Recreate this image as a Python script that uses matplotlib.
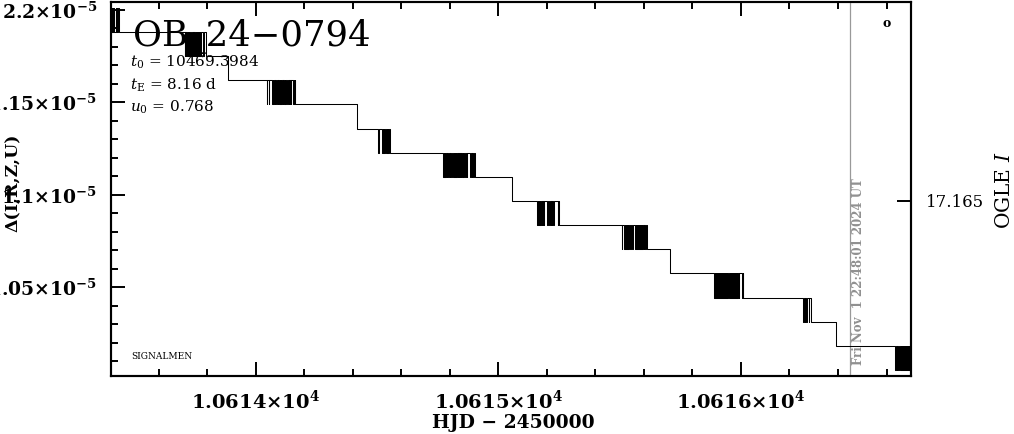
import matplotlib
matplotlib.use('Agg')
import matplotlib.pyplot as plt
from matplotlib.ticker import MultipleLocator

plt.rcParams['font.family'] = 'DejaVu Serif'
plt.rcParams['mathtext.fontset'] = 'dejavuserif'

# quantised Delta(I,R,Z,U) levels, in units of 1e-5, from top to bottom
LEVELS = [1.2010, 1.1879, 1.1749, 1.1618, 1.1488, 1.1357, 1.1227, 1.1096,
          1.0966, 1.0836, 1.0705, 1.0575, 1.0444, 1.0314, 1.0183, 1.0053]

T_START = 10613.38
T_END = 10616.72

# times (HJD-2450000) where the curve flips between level k and level k+1
CHANGES = [
    [10613.405, 10613.407, 10613.409, 10613.411, 10613.413, 10613.415, 10613.417,
     10613.422, 10613.424, 10613.426, 10613.428, 10613.432, 10613.434, 10613.436,
     10613.438],
    [10613.708, 10613.710, 10613.712, 10613.714, 10613.716, 10613.719, 10613.721,
     10613.723, 10613.725, 10613.727, 10613.733, 10613.735, 10613.739, 10613.741,
     10613.745, 10613.747, 10613.749, 10613.752, 10613.754, 10613.756, 10613.758,
     10613.760, 10613.762, 10613.764, 10613.766, 10613.768, 10613.770, 10613.772,
     10613.774, 10613.776, 10613.782, 10613.785, 10613.793],
    [10613.886],
    [10614.046, 10614.048, 10614.053, 10614.055, 10614.067, 10614.069, 10614.071,
     10614.073, 10614.075, 10614.077, 10614.079, 10614.081, 10614.083, 10614.086,
     10614.090, 10614.092, 10614.096, 10614.098, 10614.100, 10614.102, 10614.104,
     10614.106, 10614.108, 10614.110, 10614.112, 10614.114, 10614.116, 10614.119,
     10614.121, 10614.123, 10614.129, 10614.131, 10614.135, 10614.137, 10614.139,
     10614.141, 10614.145, 10614.147, 10614.154, 10614.156, 10614.158, 10614.160,
     10614.162],
    [10614.418],
    [10614.504, 10614.506, 10614.521, 10614.523, 10614.525, 10614.527, 10614.529,
     10614.531, 10614.537, 10614.539, 10614.541, 10614.543, 10614.545, 10614.547,
     10614.552],
    [10614.772, 10614.774, 10614.776, 10614.778, 10614.780, 10614.782, 10614.787,
     10614.789, 10614.793, 10614.795, 10614.799, 10614.801, 10614.805, 10614.807,
     10614.813, 10614.816, 10614.818, 10614.820, 10614.822, 10614.824, 10614.826,
     10614.828, 10614.832, 10614.834, 10614.836, 10614.838, 10614.840, 10614.842,
     10614.844, 10614.846, 10614.851, 10614.853, 10614.855, 10614.857, 10614.863,
     10614.865, 10614.869, 10614.871, 10614.884, 10614.886, 10614.890, 10614.892,
     10614.896, 10614.898, 10614.902],
    [10615.057],
    [10615.160, 10615.162, 10615.164, 10615.166, 10615.168, 10615.170, 10615.172,
     10615.174, 10615.178, 10615.180, 10615.183, 10615.185, 10615.187, 10615.189,
     10615.201, 10615.203, 10615.209, 10615.211, 10615.216, 10615.218, 10615.220,
     10615.222, 10615.226, 10615.228, 10615.244, 10615.246, 10615.251],
    [10615.508, 10615.510, 10615.519, 10615.521, 10615.523, 10615.525, 10615.527,
     10615.529, 10615.531, 10615.533, 10615.535, 10615.537, 10615.543, 10615.545,
     10615.552, 10615.554, 10615.564, 10615.566, 10615.568, 10615.570, 10615.572,
     10615.574, 10615.576, 10615.578, 10615.580, 10615.583, 10615.585, 10615.587,
     10615.589, 10615.591, 10615.593, 10615.595, 10615.599, 10615.601, 10615.605,
     10615.607, 10615.611],
    [10615.708],
    [10615.890, 10615.892, 10615.894, 10615.896, 10615.898, 10615.900, 10615.902,
     10615.904, 10615.906, 10615.908, 10615.910, 10615.912, 10615.915, 10615.917,
     10615.919, 10615.921, 10615.923, 10615.925, 10615.927, 10615.929, 10615.931,
     10615.933, 10615.935, 10615.937, 10615.939, 10615.941, 10615.943, 10615.945,
     10615.952, 10615.954, 10615.956, 10615.958, 10615.960, 10615.962, 10615.964,
     10615.966, 10615.968, 10615.970, 10615.972, 10615.974, 10615.976, 10615.978,
     10615.981, 10615.983, 10615.985, 10615.987, 10615.991, 10615.993, 10616.005,
     10616.007, 10616.009],
    [10616.257, 10616.259, 10616.263, 10616.265, 10616.269, 10616.271, 10616.279,
     10616.282, 10616.288],
    [10616.393],
    [10616.636, 10616.638, 10616.642, 10616.644, 10616.649, 10616.651, 10616.657,
     10616.659, 10616.661, 10616.663, 10616.665, 10616.667, 10616.669, 10616.671,
     10616.673, 10616.676, 10616.678, 10616.680, 10616.682, 10616.684, 10616.686,
     10616.688, 10616.690, 10616.692, 10616.694, 10616.696, 10616.698, 10616.700,
     10616.702],
]

XTICKS = [10614, 10615, 10616]
XTICK_LABELS = [r'$\mathbf{1.0614{\times}10^{4}}$', r'$\mathbf{1.0615{\times}10^{4}}$',
                r'$\mathbf{1.0616{\times}10^{4}}$']
YTICKS = [1.2e-5, 1.15e-5, 1.1e-5, 1.05e-5]
YTICK_LABELS = [r'$\mathbf{2.2{\times}10^{-5}}$', r'$\mathbf{1.15{\times}10^{-5}}$',
                r'$\mathbf{1.1{\times}10^{-5}}$', r'$\mathbf{1.05{\times}10^{-5}}$']
NOW_HJD = 10616.450
OGLE_TICK = 17.165

# build the step curve
t = [T_START]
y = [LEVELS[0] * 1e-5]
for k, times in enumerate(CHANGES):
    hi = LEVELS[k] * 1e-5
    lo = LEVELS[k + 1] * 1e-5
    for j, tt in enumerate(times):
        t.append(tt)
        y.append(lo if j % 2 == 0 else hi)
t.append(T_END)
y.append(LEVELS[-1] * 1e-5)

fig = plt.figure(figsize=(10.14, 4.34), dpi=100)
ax = fig.add_axes([111 / 1014, 58 / 434, 800 / 1014, 374 / 434])

ax.plot(t, y, drawstyle='steps-post', color='black', lw=0.75, zorder=5)
ax.axvline(NOW_HJD, color='#999999', lw=0.9, zorder=4)

ax.set_xlim(10613.403, 10616.701)
ax.set_ylim(1.0020e-5, 1.2042e-5)

ax.set_xticks(XTICKS)
ax.set_xticklabels(XTICK_LABELS, fontsize=14)
ax.set_yticks(YTICKS)
ax.set_yticklabels(YTICK_LABELS, fontsize=13.5)
ax.xaxis.set_minor_locator(MultipleLocator(0.2))
ax.yaxis.set_minor_locator(MultipleLocator(0.01e-5))
ax.tick_params(which='both', direction='in', top=True, right=False, width=1.4)
ax.tick_params(which='major', length=10, pad=10)
ax.tick_params(which='minor', length=5)
for sp in ax.spines.values():
    sp.set_linewidth(1.5)

ax2 = ax.twinx()
ax2.set_ylim(17.2118, 17.1118)
ax2.set_yticks([OGLE_TICK])
ax2.set_yticklabels(['17.165'], fontsize=12)
ax2.yaxis.set_minor_locator(plt.NullLocator())
ax2.tick_params(direction='in', length=10, width=1.4, pad=11)
for sp in ax2.spines.values():
    sp.set_linewidth(1.5)

ax.text(0.0275, 0.8824, 'OB_24\u22120794', fontsize=25.5, ha='left', va='baseline',
        transform=ax.transAxes, zorder=3)
ax.text(0.024, 0.8262, r'$t_0$ = 10469.3984', fontsize=11, va='baseline',
        transform=ax.transAxes, zorder=3)
ax.text(0.024, 0.7647, r'$t_{\rm E}$ = 8.16 d', fontsize=11, va='baseline',
        transform=ax.transAxes, zorder=3)
ax.text(0.024, 0.7059, r'$u_0$ = 0.768', fontsize=11, va='baseline',
        transform=ax.transAxes, zorder=3)
ax.text(0.025, 0.0455, 'SIGNALMEN', fontsize=6.5, va='baseline',
        transform=ax.transAxes)
ax.text(0.97, 0.9412, 'o', fontsize=9, fontweight='bold', ha='center', va='center',
        transform=ax.transAxes)
ax.text(0.935, 0.0294, 'Fri Nov  1 22:48:01 2024 UT', fontsize=8.5, fontweight='bold',
        color='#909090', rotation=90, ha='center', va='bottom',
        transform=ax.transAxes)

fig.text(513 / 1014, 1 - 428 / 434, 'HJD \u2212 2450000', fontsize=13.5,
         fontweight='bold', ha='center', va='baseline')
fig.text(13 / 1014, 1 - 183 / 434, '\u0394(I,R,Z,U)', fontsize=12.5,
         fontweight='bold', rotation=90, ha='center', va='center')
fig.text(1005 / 1014, 1 - 190 / 434, r'OGLE $I$', fontsize=14.5,
         rotation=90, ha='center', va='center')

fig.savefig('out.png', dpi=100)
